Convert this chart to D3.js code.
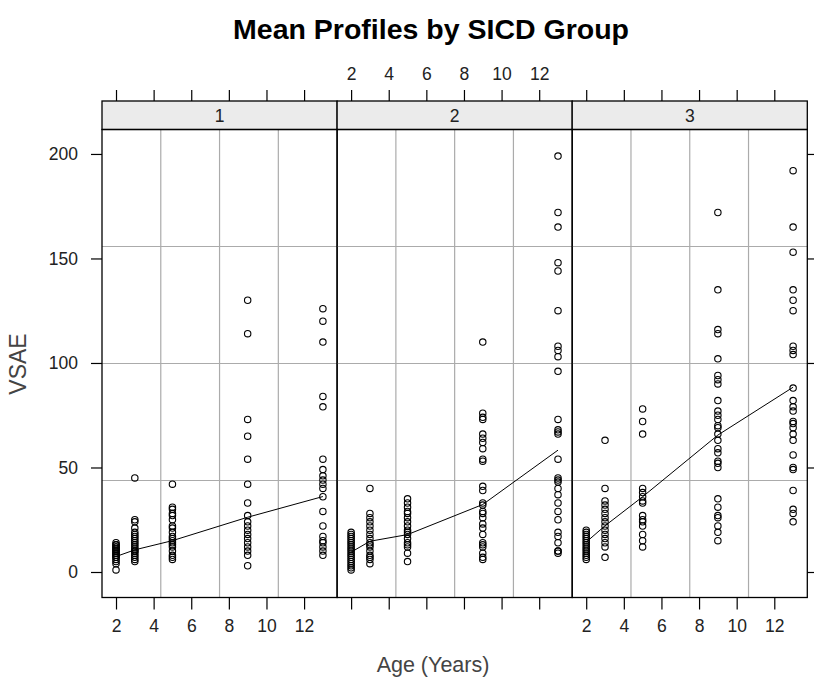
<!DOCTYPE html>
<html>
<head>
<meta charset="utf-8">
<script src="https://cdn.jsdelivr.net/npm/d3@7"></script>
<style>
  body { margin: 0; background: #fff; }
  svg text { font-family: "Liberation Sans", Arial, sans-serif; }
</style>
</head>
<body>
<svg id="chart" width="814" height="687"></svg>
<script>
// ---------- data ----------
const groups = ["1", "2", "3"];
const ages = [2, 3, 5, 9, 13];
const xTicks = [2, 4, 6, 8, 10, 12];
const yTicks = [0, 50, 100, 150, 200];

// VSAE observations per age (rows follow `ages`)
const group1 = [
  [1, 4, 5, 6, 7, 7, 8, 8, 9, 9, 10, 10, 11, 11, 12, 12, 13, 13, 14],
  [5, 6, 7, 8, 9, 10, 10, 11, 12, 13, 14, 15, 16, 17, 18, 19, 21, 24, 25, 45],
  [6, 7, 8, 10, 12, 13, 14, 15, 16, 17, 19, 21, 22, 25, 27, 28, 30, 31, 42],
  [3, 8, 10, 12, 14, 16, 18, 20, 22, 24, 27, 33, 42, 54, 65, 73, 114, 130],
  [8, 10, 12, 14, 15, 17, 22, 29, 36, 40, 42, 44, 46, 49, 54, 79, 84, 110, 120, 126]
];
const group2 = [
  [1, 2, 3, 4, 5, 6, 7, 8, 9, 10, 11, 12, 13, 14, 15, 16, 17, 18, 19],
  [4, 6, 7, 8, 10, 12, 13, 14, 16, 18, 20, 22, 24, 26, 28, 40],
  [5, 9, 12, 13, 14, 16, 18, 19, 20, 22, 24, 26, 28, 29, 31, 33, 35],
  [6, 7, 9, 12, 13, 14, 18, 21, 23, 26, 28, 29, 32, 33, 39, 41, 53, 54, 59, 62, 64, 66, 73, 74, 76, 110],
  [9, 10, 10, 14, 17, 19, 25, 29, 33, 37, 40, 43, 44, 45, 54, 66, 67, 68, 73, 96, 103, 106, 108, 125, 144, 148, 165, 172, 199]
];
const group3 = [
  [6, 7, 8, 9, 10, 11, 12, 13, 14, 15, 16, 17, 18, 19, 20],
  [7, 12, 14, 16, 18, 20, 22, 24, 26, 28, 30, 32, 34, 40, 63],
  [12, 15, 18, 22, 24, 25, 27, 33, 34, 36, 38, 40, 66, 72, 78],
  [15, 19, 22, 26, 27, 31, 35, 50, 52, 53, 57, 59, 63, 66, 69, 70, 73, 75, 77, 82, 90, 92, 94, 102, 114, 116, 135, 172],
  [24, 28, 30, 39, 49, 50, 56, 63, 66, 69, 71, 72, 77, 79, 82, 88, 104, 106, 108, 125, 130, 135, 153, 165, 192]
];
// mean profiles
const mean1 = [7.4, 10.6, 15.0, 26.2, 36.1];
const mean2 = [9.5, 14.7, 17.9, 32.3, 58.3];
const mean3 = [14.3, 22.1, 36.0, 65.5, 88.4];

const obs = [group1, group2, group3];
const means = [mean1, mean2, mean3];

// ---------- layout ----------
const svg = d3.select("#chart");
const left = 102, right = 807.3;
const panelW = (right - left) / 3;
const stripTop = 101, stripBot = 129.5, panelBot = 597.5;

const y = d3.scaleLinear().domain([-12.2, 211.7]).range([panelBot, stripBot]);
const xFor = i => d3.scaleLinear().domain([1.255, 13.755])
  .range([left + i * panelW, left + (i + 1) * panelW]);

const FONT = 17.5;

// title
svg.append("text").attr("x", 431).attr("y", 39)
  .attr("text-anchor", "middle").attr("font-weight", "bold")
  .attr("font-size", 28.5).attr("fill", "#000")
  .text("Mean Profiles by SICD Group");

groups.forEach((g, i) => {
  const x = xFor(i);
  const x0 = left + i * panelW, x1 = x0 + panelW;
  const gp = svg.append("g");

  // grid (panel divided into quarters)
  [1, 2, 3].forEach(k => {
    const gx = x0 + k * panelW / 4;
    const gy = stripBot + k * (panelBot - stripBot) / 4;
    gp.append("line").attr("x1", gx).attr("x2", gx).attr("y1", stripBot).attr("y2", panelBot)
      .attr("stroke", "#ababab").attr("stroke-width", 1.2);
    gp.append("line").attr("x1", x0).attr("x2", x1).attr("y1", gy).attr("y2", gy)
      .attr("stroke", "#ababab").attr("stroke-width", 1.2);
  });

  // points
  ages.forEach((a, j) => {
    gp.selectAll(null).data(obs[i][j]).enter().append("circle")
      .attr("cx", x(a)).attr("cy", d => y(d)).attr("r", 3.2)
      .attr("fill", "none").attr("stroke", "#000").attr("stroke-width", 1.1);
  });

  // mean line
  gp.append("path")
    .datum(ages.map((a, j) => [a, means[i][j]]))
    .attr("d", d3.line().x(d => x(d[0])).y(d => y(d[1])))
    .attr("fill", "none").attr("stroke", "#000").attr("stroke-width", 1);

  // strip
  gp.append("rect").attr("x", x0).attr("y", stripTop).attr("width", panelW)
    .attr("height", stripBot - stripTop).attr("fill", "#ebebeb")
    .attr("stroke", "#000").attr("stroke-width", 1.3);
  gp.append("text").attr("x", (x0 + x1) / 2).attr("y", (stripTop + stripBot) / 2 + 6.5)
    .attr("text-anchor", "middle").attr("font-size", FONT).attr("fill", "#222").text(g);

  // panel border
  gp.append("rect").attr("x", x0).attr("y", stripBot).attr("width", panelW)
    .attr("height", panelBot - stripBot).attr("fill", "none")
    .attr("stroke", "#000").attr("stroke-width", 1.3);

  // bottom axis
  const bottom = d3.axisBottom(x).tickValues(xTicks).tickSize(12).tickSizeOuter(0)
    .tickFormat(i === 1 ? "" : d3.format("d")).tickPadding(10);
  const ba = svg.append("g").attr("transform", `translate(0,${panelBot})`).call(bottom);
  // top axis
  const top = d3.axisTop(x).tickValues(xTicks).tickSize(11).tickSizeOuter(0)
    .tickFormat(i === 1 ? d3.format("d") : "").tickPadding(10);
  const ta = svg.append("g").attr("transform", `translate(0,${stripTop})`).call(top);
  [ba, ta].forEach(ax => {
    ax.select(".domain").remove();
    ax.selectAll(".tick line").attr("stroke", "#000").attr("stroke-width", 1.2);
    ax.selectAll(".tick text").attr("font-size", FONT).attr("fill", "#222")
      .attr("font-family", "Liberation Sans, Arial, sans-serif");
  });
});

// left axis
const la = svg.append("g").attr("transform", `translate(${left},0)`)
  .call(d3.axisLeft(y).tickValues(yTicks).tickSize(11).tickSizeOuter(0).tickPadding(13));
// right axis (ticks only)
const ra = svg.append("g").attr("transform", `translate(${right},0)`)
  .call(d3.axisRight(y).tickValues(yTicks).tickSize(11).tickSizeOuter(0).tickFormat(""));
[la, ra].forEach(ax => {
  ax.select(".domain").remove();
  ax.selectAll(".tick line").attr("stroke", "#000").attr("stroke-width", 1.2);
  ax.selectAll(".tick text").attr("font-size", FONT).attr("fill", "#222")
    .attr("font-family", "Liberation Sans, Arial, sans-serif");
});

// axis titles
svg.append("text").attr("x", 433).attr("y", 672)
  .attr("text-anchor", "middle").attr("font-size", 21.5).attr("fill", "#444")
  .text("Age (Years)");
svg.append("text").attr("transform", "translate(26,364) rotate(-90)")
  .attr("text-anchor", "middle").attr("font-size", 23).attr("fill", "#444")
  .text("VSAE");
</script>
</body>
</html>
